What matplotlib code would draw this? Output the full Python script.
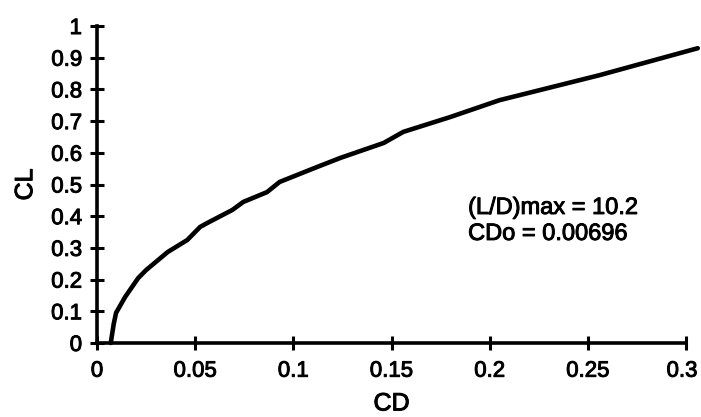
import matplotlib
matplotlib.use("Agg")
import matplotlib.pyplot as plt
import matplotlib.patheffects as pe
from matplotlib.transforms import ScaledTranslation

plt.rcParams['font.family'] = ['Liberation Sans', 'DejaVu Sans']

# drag polar
cd = [0.0070, 0.0085, 0.0097, 0.0143, 0.021, 0.025, 0.036, 0.046, 0.0525, 0.056,
      0.069, 0.0745, 0.0866, 0.093, 0.112, 0.124, 0.146, 0.156, 0.18, 0.205,
      0.256, 0.306]
cl = [0.0, 0.06, 0.095, 0.145, 0.205, 0.23, 0.287, 0.325, 0.366, 0.378,
      0.42, 0.445, 0.476, 0.508, 0.555, 0.584, 0.631, 0.666, 0.713, 0.766,
      0.845, 0.93]

x_ticks = [0, 0.05, 0.1, 0.15, 0.2, 0.25, 0.3]
x_labels = ["0", "0.05", "0.1", "0.15", "0.2", "0.25", "0.3"]
y_ticks = [0, 0.1, 0.2, 0.3, 0.4, 0.5, 0.6, 0.7, 0.8, 0.9, 1.0]
y_labels = ["0", "0.1", "0.2", "0.3", "0.4", "0.5", "0.6", "0.7", "0.8", "0.9", "1"]

ld_max = 10.2
cd0 = 0.00696

fig = plt.figure(figsize=(7.01, 4.17), dpi=100)
ax = fig.add_axes([0.1384, 0.1775, 0.9786 - 0.1384, 0.9376 - 0.1775])

ax.plot(cd, cl, color="black", lw=3.3, clip_on=False, solid_capstyle="round")

ax.set_xlim(0, 0.3)
ax.set_ylim(0, 1)
ax.spines["top"].set_visible(False)
ax.spines["right"].set_visible(False)
for s in ["left", "bottom"]:
    ax.spines[s].set_linewidth(2.6)

ax.set_xticks(x_ticks)
ax.set_xticklabels(x_labels)
ax.set_yticks(y_ticks)
ax.set_yticklabels(y_labels)
ax.tick_params(direction="inout", length=9.5, width=2.2, labelsize=16)
ax.tick_params(axis="y", pad=6)
ax.tick_params(axis="x", pad=8)

# last x label sits a bit left of its tick, as in the original
last = ax.get_xticklabels()[-1]
last.set_transform(last.get_transform() + ScaledTranslation(-4 / 100, 0, fig.dpi_scale_trans))

ax.set_xlabel("CD", fontsize=18, labelpad=7)
ax.set_ylabel("CL", fontsize=18, labelpad=10)

ax.text(0.189, 0.426, "(L/D)max = {}".format(ld_max), fontsize=17, ha="left", va="center")
ax.text(0.189, 0.344, "CDo = {}".format(cd0), fontsize=17, ha="left", va="center")

# scanned original has heavier strokes on the lettering
thick = [pe.withStroke(linewidth=0.7, foreground="black")]
for t in ax.get_xticklabels() + ax.get_yticklabels() + ax.texts + [ax.xaxis.label, ax.yaxis.label]:
    t.set_path_effects(thick)

plt.savefig("out.png", dpi=100)
